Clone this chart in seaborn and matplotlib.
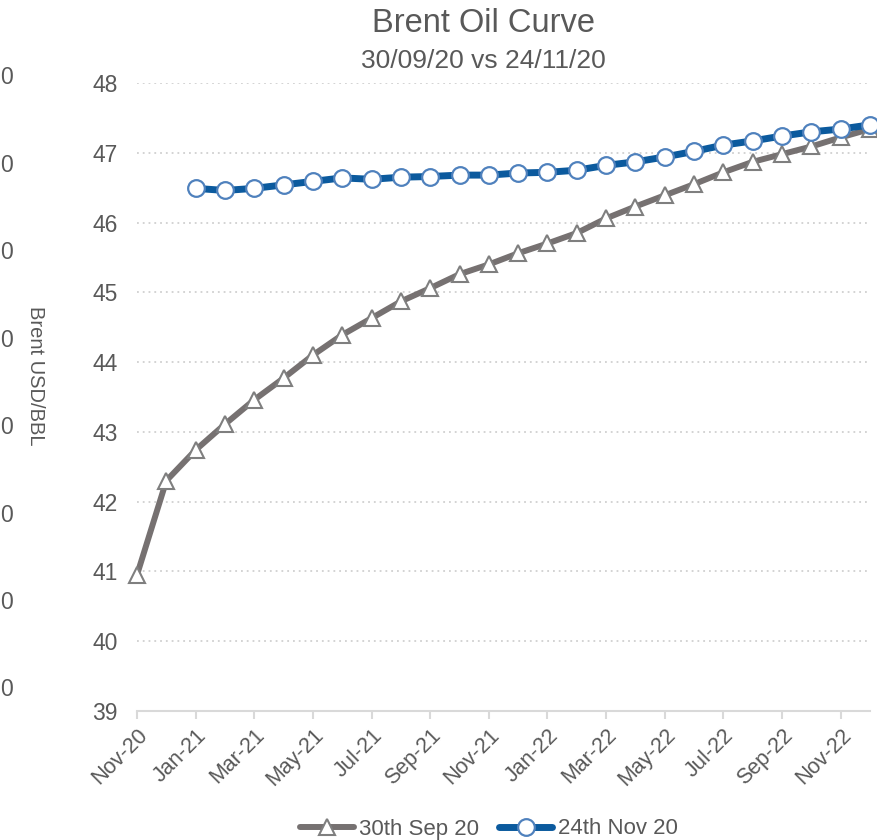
import matplotlib
matplotlib.use("Agg")
import matplotlib.pyplot as plt
import numpy as np
import pandas as pd
import seaborn as sns

months = ["Nov-20", "Dec-20", "Jan-21", "Feb-21", "Mar-21", "Apr-21", "May-21",
          "Jun-21", "Jul-21", "Aug-21", "Sep-21", "Oct-21", "Nov-21", "Dec-21",
          "Jan-22", "Feb-22", "Mar-22", "Apr-22", "May-22", "Jun-22", "Jul-22",
          "Aug-22", "Sep-22", "Oct-22", "Nov-22", "Dec-22"]

curve_sep30 = [40.95, 42.30, 42.74, 43.11, 43.46, 43.77, 44.10, 44.39, 44.63,
               44.87, 45.06, 45.26, 45.40, 45.56, 45.70, 45.85, 46.06, 46.23,
               46.39, 46.55, 46.72, 46.87, 46.98, 47.09, 47.22, 47.34]

curve_nov24 = [np.nan, np.nan, 46.49, 46.46, 46.49, 46.54, 46.59, 46.64, 46.62,
               46.65, 46.66, 46.68, 46.68, 46.71, 46.72, 46.75, 46.82, 46.87,
               46.94, 47.02, 47.11, 47.17, 47.24, 47.30, 47.34, 47.40]

series_names = ["30th Sep 20", "24th Nov 20"]
y_ticks = [39, 40, 41, 42, 43, 44, 45, 46, 47, 48]
# trailing digits of the neighbouring axis that shows at the left edge
side_labels = ["0", "0", "0", "0", "0", "0", "0", "0"]

TEXT = "#595959"
GRID = "#d0d0d0"
AXIS = "#d9d9d9"
GRAY_LINE = "#767171"
GRAY_EDGE = "#7f7f7f"
BLUE_LINE = "#0b5a9e"
BLUE_EDGE = "#4f81bd"

sns.set_theme(style="white")
plt.rcParams["font.family"] = ["Liberation Sans", "DejaVu Sans"]

df = pd.DataFrame({"idx": np.arange(len(months)), "month": months,
                   series_names[0]: curve_sep30, series_names[1]: curve_nov24})

fig = plt.figure(figsize=(8.77, 8.40), dpi=100)
ax = fig.add_axes([137 / 877, 1 - 711 / 840, (870 - 137) / 877, (711 - 83) / 840])

sns.lineplot(data=df, x="idx", y=series_names[0], ax=ax, color=GRAY_LINE,
             linewidth=4.3, marker="^", markersize=12, markerfacecolor="white",
             markeredgecolor=GRAY_EDGE, markeredgewidth=1.5, clip_on=False,
             label=series_names[0], legend=False)
sub = df.dropna(subset=[series_names[1]])
sns.lineplot(data=sub, x="idx", y=series_names[1], ax=ax, color=BLUE_LINE,
             linewidth=5, marker="o", markersize=12, markerfacecolor="white",
             markeredgecolor=BLUE_EDGE, markeredgewidth=1.6, clip_on=False,
             label=series_names[1], legend=False)

ax.set_xlim(0, len(months) - 1)
ax.set_ylim(y_ticks[0], y_ticks[-1])
ax.set_yticks(y_ticks)
ax.set_yticklabels([str(v) for v in y_ticks], fontsize=16.5, color=TEXT)
ax.set_xticks(df["idx"][::2])
ax.set_xticklabels(df["month"][::2], rotation=45, ha="right",
                   rotation_mode="anchor", fontsize=15.5, color=TEXT)

for v in y_ticks[1:]:
    ax.axhline(v, color=GRID, linewidth=1.3, linestyle=(0, (1, 2.2)), zorder=0)

for s in ["top", "right", "left"]:
    ax.spines[s].set_visible(False)
ax.spines["bottom"].set_color(AXIS)
ax.spines["bottom"].set_linewidth(1.5)
ax.tick_params(axis="x", length=6, width=1.5, color=AXIS, pad=4, bottom=True)
ax.tick_params(axis="y", length=0, pad=14)
ax.set_xlabel("")
ax.set_ylabel("")

fig.text(35 / 877, 1 - 376 / 840, "Brent USD/BBL", rotation=270, ha="center",
         va="center", fontsize=14.5, color=TEXT)

for i, lab in enumerate(side_labels):
    fig.text(0.5 / 877, 1 - (78 + i * 87.4) / 840, lab, ha="left", va="center",
             fontsize=16.5, color=TEXT)

fig.text(483 / 877, 1 - 24 / 840, "Brent Oil Curve", ha="center", va="center",
         fontsize=23.5, color=TEXT)
fig.text(483 / 877, 1 - 61 / 840, "30/09/20 vs 24/11/20", ha="center",
         va="center", fontsize=19, color=TEXT)

handles, labels = ax.get_legend_handles_labels()
fig.legend(handles, labels, loc="center", ncol=2, frameon=False,
           bbox_to_anchor=(489 / 877, 1 - 829 / 840), fontsize=16,
           labelcolor=TEXT, handlelength=2.4, handletextpad=0.25,
           columnspacing=0.9)

fig.savefig("out.png", dpi=100)
